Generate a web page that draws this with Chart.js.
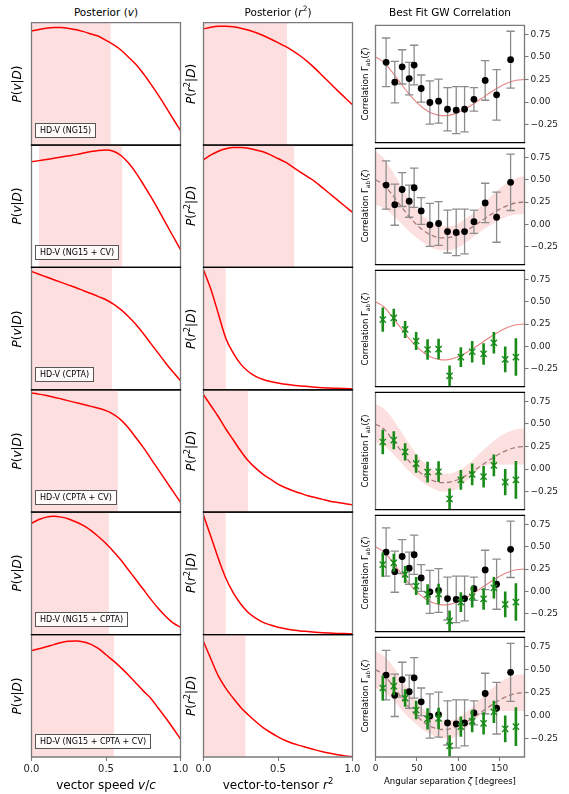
<!DOCTYPE html>
<html><head><meta charset="utf-8">
<script src="https://cdn.jsdelivr.net/npm/chart.js@4.4.1/dist/chart.umd.min.js"></script>
<style>
html,body{margin:0;padding:0;background:#fff;}
#fig{position:relative;width:569px;height:794px;overflow:hidden;font-family:'DejaVu Sans',sans-serif;color:#000;background:#fff;}
#fig canvas{position:absolute;}
.t{position:absolute;white-space:nowrap;line-height:1;}
.rot{transform:translate(-50%,-50%) rotate(-90deg);}
.ctr{transform:translate(-50%,-50%);}
.lg{position:absolute;white-space:nowrap;border:1px solid #555;background:rgba(255,255,255,0.85);font-size:8px;line-height:9px;padding:2px 4px 2px 4px;z-index:5;}
sup{font-size:70%;line-height:0;}
sub{font-size:70%;line-height:0;}
</style></head>
<body><div id="fig"></div>
<script>
// ---------- data ----------
const GRID = [0,0.05,0.1,0.15,0.2,0.25,0.3,0.35,0.4,0.45,0.5,0.55,0.6,0.65,0.7,0.75,0.8,0.85,0.9,0.95,1.0];

const postV_NG15      = [0.932,0.945,0.955,0.961,0.960,0.953,0.943,0.927,0.908,0.889,0.856,0.820,0.777,0.720,0.660,0.585,0.500,0.410,0.315,0.215,0.119];
const postV_NG15CV    = [0.864,0.873,0.882,0.892,0.902,0.912,0.922,0.935,0.947,0.956,0.960,0.950,0.915,0.855,0.775,0.680,0.580,0.475,0.365,0.255,0.145];
const postV_CPTA      = [0.967,0.945,0.922,0.900,0.878,0.856,0.834,0.810,0.787,0.762,0.736,0.700,0.655,0.600,0.535,0.460,0.380,0.300,0.220,0.145,0.075];
const postV_CPTACV    = [0.975,0.965,0.953,0.940,0.925,0.910,0.895,0.880,0.865,0.850,0.830,0.800,0.755,0.690,0.610,0.530,0.440,0.350,0.260,0.170,0.080];
const postV_NG15CPTA  = [0.910,0.940,0.960,0.967,0.960,0.945,0.920,0.890,0.850,0.800,0.745,0.680,0.610,0.530,0.450,0.370,0.290,0.215,0.150,0.095,0.060];
const postV_ALL       = [0.869,0.885,0.900,0.918,0.935,0.946,0.947,0.940,0.920,0.885,0.835,0.785,0.730,0.670,0.605,0.540,0.480,0.400,0.320,0.235,0.147];

const postR_NG15      = [0.949,0.962,0.970,0.971,0.966,0.955,0.940,0.920,0.895,0.867,0.837,0.806,0.770,0.728,0.680,0.625,0.565,0.505,0.445,0.387,0.329];
const postR_NG15CV    = [0.880,0.920,0.950,0.970,0.980,0.980,0.975,0.960,0.945,0.920,0.890,0.860,0.820,0.780,0.740,0.700,0.650,0.600,0.550,0.500,0.450];
const postR_CPTA      = [0.980,0.820,0.620,0.420,0.300,0.210,0.150,0.110,0.085,0.068,0.055,0.045,0.038,0.032,0.027,0.022,0.018,0.015,0.012,0.010,0.008];
const postR_CPTACV    = [0.960,0.870,0.780,0.680,0.590,0.500,0.420,0.360,0.310,0.270,0.230,0.200,0.175,0.155,0.135,0.120,0.105,0.090,0.080,0.070,0.060];
const postR_NG15CPTA  = [0.975,0.800,0.620,0.460,0.340,0.250,0.180,0.135,0.100,0.078,0.060,0.048,0.038,0.030,0.025,0.020,0.016,0.013,0.010,0.008,0.006];
const postR_ALL       = [0.943,0.800,0.660,0.560,0.480,0.405,0.345,0.290,0.240,0.200,0.165,0.135,0.110,0.093,0.075,0.058,0.043,0.030,0.018,0.009,0.003];

// credible intervals (shaded)
const credV = [[0,0.532],[0.05,0.61],[0,0.54],[0,0.58],[0,0.52],[0,0.555]];
const credR = [[0,0.562],[0,0.61],[0,0.15],[0,0.30],[0,0.15],[0,0.283]];

// NANOGrav 15yr binned correlations
const ng15Ang = [12.8,23.3,32.2,40.7,46.7,55.2,65.7,76.2,87.0,97.5,107.6,118.9,132.5,146.3,163.2];
const ng15Val = [0.44,0.22,0.39,0.26,0.41,0.15,-0.005,0.01,-0.08,-0.09,-0.08,0.03,0.24,0.08,0.47];
const ng15Err = [0.27,0.23,0.19,0.18,0.22,0.15,0.24,0.245,0.24,0.26,0.25,0.13,0.22,0.28,0.315];

// CPTA binned correlations
const cptaAng = [8.8,22.1,35.8,49.1,62.9,76.2,89.5,103.1,116.8,130.6,143.0,156.7,169.6];
const cptaVal = [0.30,0.32,0.19,0.06,-0.035,-0.03,-0.33,-0.12,-0.06,-0.085,0.04,-0.145,-0.12];
const cptaErr = [0.135,0.10,0.095,0.10,0.115,0.115,0.115,0.11,0.12,0.12,0.12,0.145,0.21];

// best-fit correlation curve and cosmic-variance bands
const curveAng = [0,10,20,30,40,50,60,70,80,90,100,110,120,130,140,150,160,170,180];
const curveVal = [0.50,0.443,0.334,0.212,0.094,-0.006,-0.082,-0.131,-0.151,-0.145,-0.116,-0.069,-0.011,0.052,0.114,0.170,0.213,0.241,0.25];
const bandUp_NG15CV  = [0.82,0.74,0.60,0.45,0.30,0.17,0.07,0.01,-0.02,-0.02,0.01,0.07,0.14,0.23,0.32,0.40,0.47,0.52,0.54];
const bandLo_NG15CV  = [0.22,0.18,0.11,0.02,-0.07,-0.15,-0.22,-0.27,-0.29,-0.29,-0.26,-0.20,-0.13,-0.06,0.00,0.05,0.09,0.11,0.12];
const bandUp_CPTACV  = [0.72,0.67,0.57,0.43,0.29,0.16,0.06,-0.01,-0.05,-0.05,-0.02,0.04,0.12,0.21,0.29,0.36,0.41,0.44,0.45];
const bandLo_CPTACV  = [0.30,0.26,0.18,0.08,-0.02,-0.10,-0.17,-0.22,-0.25,-0.25,-0.21,-0.13,-0.05,0.03,0.05,0.05,0.05,0.05,0.05];
const bandUp_ALL     = [0.70,0.65,0.55,0.42,0.28,0.15,0.05,-0.02,-0.05,-0.05,-0.02,0.04,0.12,0.21,0.29,0.36,0.41,0.44,0.45];
const bandLo_ALL     = [0.30,0.26,0.18,0.08,-0.02,-0.10,-0.17,-0.22,-0.25,-0.25,-0.21,-0.13,-0.05,0.03,0.05,0.05,0.05,0.05,0.05];

const rowNames = ['HD-V (NG15)','HD-V (NG15 + CV)','HD-V (CPTA)','HD-V (CPTA + CV)','HD-V (NG15 + CPTA)','HD-V (NG15 + CPTA + CV)'];
const tickUnit = [0,0.5,1];
const tickAng = [0,50,100,150];
const tickCorr = [-0.25,0,0.25,0.5,0.75];

// ---------- row setup ----------
const rows = [
  {v:postV_NG15, r:postR_NG15, ng:true, cp:false, band:null},
  {v:postV_NG15CV, r:postR_NG15CV, ng:true, cp:false, band:[bandUp_NG15CV,bandLo_NG15CV]},
  {v:postV_CPTA, r:postR_CPTA, ng:false, cp:true, band:null},
  {v:postV_CPTACV, r:postR_CPTACV, ng:false, cp:true, band:[bandUp_CPTACV,bandLo_CPTACV]},
  {v:postV_NG15CPTA, r:postR_NG15CPTA, ng:true, cp:true, band:null},
  {v:postV_ALL, r:postR_ALL, ng:true, cp:true, band:[bandUp_ALL,bandLo_ALL]},
];

Chart.defaults.font.family = "'DejaVu Sans', sans-serif";
Chart.defaults.color = '#222';
Chart.defaults.animation = false;

const fig = document.getElementById('fig');
const COLX = [31.5, 203.5, 375.5];
const PW = 149;
const TOP0 = 22.7, PH = 122.38;
const GRAY = '#7a7a7a';

const framePlugin = {
  id: 'frame',
  afterDraw(chart, args, o) {
    const {ctx, chartArea:{left,top,right,bottom}} = chart;
    ctx.save();
    ctx.lineWidth = 1.3;
    ctx.strokeStyle = GRAY;
    ctx.beginPath(); ctx.moveTo(left, top); ctx.lineTo(left, bottom);
    ctx.moveTo(right, top); ctx.lineTo(right, bottom); ctx.stroke();
    ctx.strokeStyle = o.topC; ctx.beginPath(); ctx.moveTo(left-0.6, top); ctx.lineTo(right+0.6, top); ctx.stroke();
    ctx.strokeStyle = o.botC; ctx.beginPath(); ctx.moveTo(left-0.6, bottom); ctx.lineTo(right+0.6, bottom); ctx.stroke();
    ctx.restore();
  }
};

function xy(xs, ys) { return xs.map((x,i)=>({x:x, y:ys[i]})); }

function addText(html, x, y, size, cls, extra) {
  const d = document.createElement('div');
  d.className = 't ' + cls;
  d.style.left = x + 'px'; d.style.top = y + 'px';
  d.style.fontSize = size + 'px';
  if (extra) d.style.cssText += extra;
  d.innerHTML = html;
  fig.appendChild(d);
}

function makePanel(col, row) {
  const last = row === 5;
  const L = COLX[col], T = TOP0 + row*PH;
  const padL = 14, padT = 4;
  const padR = col === 2 ? 0 : 14;
  const axisR = col === 2 ? 42 : 0;
  const axisB = last ? 24 : 0;
  const padB = last ? 0 : 4;
  const cl = Math.floor(L - padL), ct = Math.floor(T - padT);
  const w = Math.ceil(PW + (L - cl) + padR + axisR) + 1;
  const h = Math.ceil(PH + (T - ct) + padB + axisB);
  const pL = L - cl, pT = T - ct;
  const pR = w - pL - PW - axisR;
  const pB = h - pT - PH - axisB;
  const cv = document.createElement('canvas');
  cv.width = w; cv.height = h;
  cv.style.left = cl + 'px'; cv.style.top = ct + 'px';
  cv.style.width = w + 'px'; cv.style.height = h + 'px';
  fig.appendChild(cv);

  const R = rows[row];
  const datasets = [];
  let scales;
  const xAxisBase = {
    type: 'linear',
    display: last,
    border: {display: false},
    grid: {drawOnChartArea: false, drawTicks: true, tickLength: 4, color: GRAY, tickWidth: 1.1},
    afterFit: s => { s.height = axisB; },
  };
  if (col < 2) {
    const curve = col === 0 ? R.v : R.r;
    const cred = col === 0 ? credV[row] : credR[row];
    datasets.push({
      data: xy(cred, [1,1]), showLine: true, fill: 'origin',
      backgroundColor: 'rgba(250,178,178,0.42)', borderWidth: 0, pointRadius: 0, order: 10
    });
    datasets.push({
      data: xy(GRID, curve), showLine: true, fill: false, borderColor: '#ff0000',
      borderWidth: 1.5, pointRadius: 0, cubicInterpolationMode: 'monotone', order: 1
    });
    scales = {
      x: Object.assign({}, xAxisBase, {min: 0, max: 1,
        afterBuildTicks: s => { s.ticks = tickUnit.map(v => ({value: v})); },
        ticks: {font: {size: 10}, color: '#222', padding: 2, maxRotation: 0, callback: v => Number(v).toFixed(1)}}),
      y: {type: 'linear', display: false, min: 0, max: 1}
    };
  } else {
    if (R.band) {
      datasets.push({data: xy(curveAng, R.band[0]), showLine: true, fill: '+1', backgroundColor: 'rgba(245,140,140,0.28)',
        borderWidth: 0, pointRadius: 0, cubicInterpolationMode: 'monotone', order: 20});
      datasets.push({data: xy(curveAng, R.band[1]), showLine: true, fill: false,
        borderWidth: 0, pointRadius: 0, cubicInterpolationMode: 'monotone', order: 21});
      datasets.push({data: xy(curveAng, curveVal), showLine: true, fill: false, borderColor: 'rgba(150,105,105,0.85)',
        borderDash: [5,3], borderWidth: 1.3, pointRadius: 0, cubicInterpolationMode: 'monotone', order: 15});
    } else {
      datasets.push({data: xy(curveAng, curveVal), showLine: true, fill: false, borderColor: 'rgba(228,110,110,0.85)',
        borderWidth: 1.1, pointRadius: 0, cubicInterpolationMode: 'monotone', order: 15});
    }
    if (R.ng) {
      ng15Ang.forEach((a, i) => {
        datasets.push({data: [{x:a, y:ng15Val[i]-ng15Err[i]}, {x:a, y:ng15Val[i]+ng15Err[i]}], showLine: true,
          borderColor: '#8c8c8c', borderWidth: 1.3, pointStyle: 'line', pointRadius: 4.2,
          pointBorderColor: '#8c8c8c', pointBorderWidth: 1.3, order: 8});
      });
      datasets.push({data: xy(ng15Ang, ng15Val), showLine: false, pointStyle: 'circle', pointRadius: 3.4,
        backgroundColor: '#000', borderColor: '#000', pointBorderWidth: 0, order: 6});
    }
    if (R.cp) {
      cptaAng.forEach((a, i) => {
        datasets.push({data: [{x:a, y:cptaVal[i]-cptaErr[i]}, {x:a, y:cptaVal[i]+cptaErr[i]}], showLine: true,
          borderColor: '#178a17', borderWidth: 2.6, pointRadius: 0, order: 4});
      });
      datasets.push({data: xy(cptaAng, cptaVal), showLine: false, pointStyle: 'crossRot', pointRadius: 4.4,
        borderColor: '#178a17', pointBorderColor: '#178a17', pointBorderWidth: 1.4, backgroundColor: '#178a17', order: 2});
    }
    scales = {
      x: Object.assign({}, xAxisBase, {min: 0, max: 180,
        afterBuildTicks: s => { s.ticks = tickAng.map(v => ({value: v})); },
        ticks: {font: {size: 9}, color: '#222', padding: 2, maxRotation: 0, callback: v => String(v)}}),
      y: {type: 'linear', position: 'right', min: -0.45, max: 0.85,
        border: {display: false},
        grid: {drawOnChartArea: false, drawTicks: true, tickLength: 4, color: GRAY, tickWidth: 1.1},
        afterBuildTicks: s => { s.ticks = tickCorr.map(v => ({value: v})); },
        afterFit: s => { s.width = axisR; },
        ticks: {font: {size: 9}, color: '#222', padding: 2, crossAlign: 'near',
          callback: v => (v < 0 ? '\u2212' : '') + Math.abs(v).toFixed(2)}}
    };
  }
  new Chart(cv, {
    type: 'scatter',
    data: {datasets},
    options: {
      responsive: false, devicePixelRatio: 1, animation: false,
      layout: {padding: {left: pL, top: pT, right: pR, bottom: pB}},
      plugins: {legend: {display: false}, tooltip: {enabled: false},
        frame: {topC: row === 0 ? GRAY : '#000', botC: last ? GRAY : '#000'}},
      scales
    },
    plugins: [framePlugin]
  });

  if (col === 0) {
    const lg = document.createElement('div');
    lg.className = 'lg';
    lg.textContent = rowNames[row];
    lg.style.left = (L + 3.5) + 'px';
    lg.style.top = (T + PH - 22.5) + 'px';
    fig.appendChild(lg);
  }
}

for (let r = 0; r < 6; r++) for (let c = 0; c < 3; c++) makePanel(c, r);

// titles
addText('Posterior (<i>v</i>)', COLX[0] + PW/2, 12, 10.5, 'ctr');
addText('Posterior (<i>r</i><sup>2</sup>)', COLX[1] + PW/2, 12, 10.5, 'ctr');
addText('Best Fit GW Correlation', COLX[2] + PW/2, 12, 10.5, 'ctr');
// y labels
for (let r = 0; r < 6; r++) {
  const cy = TOP0 + r*PH + PH/2;
  addText('<i>P</i>(<i>v</i>|<i>D</i>)', 17, cy, 12, 'rot');
  addText('<i>P</i>(<i>r</i><sup>2</sup>|<i>D</i>)', 191, cy, 12, 'rot');
  addText('Correlation \u0393<sub>ab</sub>(<i>\u03b6</i>)', 365, cy, 8.5, 'rot');
}
// x labels
addText('vector speed <i>v</i>/<i>c</i>', COLX[0] + PW/2, 785, 12, 'ctr');
addText('vector-to-tensor <i>r</i><sup>2</sup>', COLX[1] + PW/2, 785, 12, 'ctr');
addText('Angular separation <i>\u03b6</i> [degrees]', COLX[2] + PW/2, 781, 8.5, 'ctr');
</script>
</body></html>
